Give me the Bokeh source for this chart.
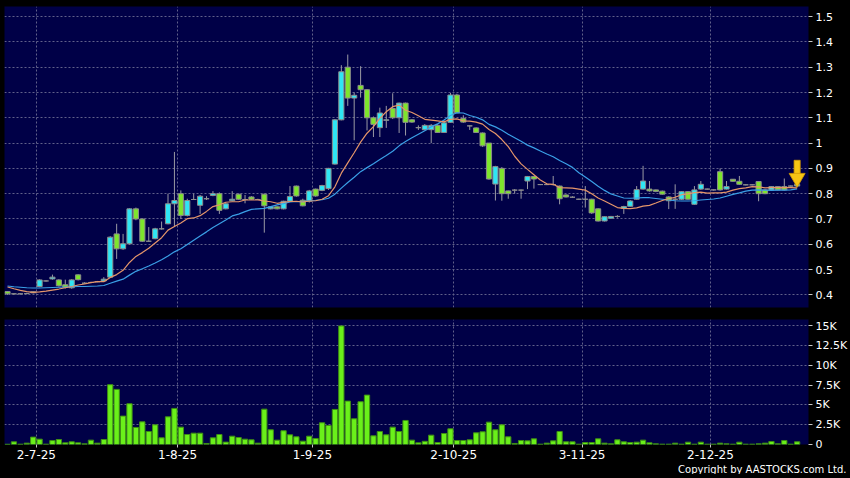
from bokeh.plotting import figure
from bokeh.layouts import column
from bokeh.models import (ColumnDataSource, FixedTicker, NumeralTickFormatter, Range1d,
                          Title, GlobalInlineStyleSheet)
from bokeh.embed import file_html
from bokeh.resources import INLINE

# ---------------- data ----------------
opens = [0.413, 0.404, 0.404, 0.405, 0.408, 0.433, 0.455, 0.463, 0.459, 0.440,
         0.428, 0.479, 0.446, 0.449, 0.452, 0.455, 0.470, 0.641, 0.582, 0.602,
         0.740, 0.700, 0.612, 0.622, 0.661, 0.681, 0.760, 0.800, 0.714, 0.777,
         0.754, 0.780, 0.793, 0.800, 0.740, 0.772, 0.798, 0.777, 0.787, 0.777,
         0.798, 0.740, 0.748, 0.740, 0.770, 0.830, 0.774, 0.770, 0.818, 0.813,
         0.820, 0.917, 1.092, 1.300, 1.178, 1.228, 1.211, 1.100, 1.061, 1.090,
         1.137, 1.100, 1.158, 1.092, 1.061, 1.053, 1.053, 1.070, 1.042, 1.082,
         1.190, 1.097, 1.068, 1.060, 1.040, 1.000, 0.838, 0.900, 0.811, 0.814,
         0.814, 0.850, 0.868, 0.836, 0.836, 0.836, 0.830, 0.795, 0.786, 0.778,
         0.778, 0.778, 0.740, 0.692, 0.703, 0.710, 0.742, 0.750, 0.778, 0.818,
         0.818, 0.815, 0.810, 0.787, 0.778, 0.778, 0.808, 0.758, 0.818, 0.818,
         0.815, 0.887, 0.818, 0.857, 0.849, 0.835, 0.835, 0.848, 0.815, 0.815,
         0.828, 0.828, 0.830, 0.830]
highs = [0.415, 0.406, 0.406, 0.408, 0.414, 0.462, 0.458, 0.480, 0.462, 0.460,
         0.462, 0.481, 0.450, 0.452, 0.455, 0.470, 0.632, 0.681, 0.641, 0.742,
         0.745, 0.702, 0.668, 0.665, 0.690, 0.800, 0.965, 0.813, 0.780, 0.800,
         0.795, 0.790, 0.810, 0.805, 0.765, 0.810, 0.800, 0.795, 0.790, 0.780,
         0.800, 0.750, 0.750, 0.772, 0.830, 0.832, 0.780, 0.815, 0.820, 0.835,
         0.902, 1.095, 1.308, 1.350, 1.200, 1.304, 1.213, 1.105, 1.140, 1.147,
         1.197, 1.160, 1.160, 1.095, 1.070, 1.075, 1.075, 1.075, 1.090, 1.198,
         1.195, 1.110, 1.070, 1.062, 1.042, 1.000, 0.910, 0.905, 0.812, 0.818,
         0.816, 0.870, 0.870, 0.838, 0.840, 0.870, 0.832, 0.797, 0.790, 0.780,
         0.830, 0.780, 0.742, 0.710, 0.712, 0.715, 0.752, 0.775, 0.830, 0.910,
         0.850, 0.816, 0.812, 0.790, 0.837, 0.810, 0.810, 0.830, 0.850, 0.820,
         0.817, 0.900, 0.850, 0.858, 0.870, 0.837, 0.837, 0.850, 0.817, 0.830,
         0.830, 0.860, 0.832, 0.840]
lows = [0.400, 0.402, 0.402, 0.403, 0.406, 0.430, 0.452, 0.460, 0.433, 0.425,
        0.424, 0.457, 0.444, 0.447, 0.450, 0.452, 0.468, 0.542, 0.578, 0.600,
        0.695, 0.610, 0.610, 0.620, 0.658, 0.679, 0.668, 0.700, 0.710, 0.775,
        0.720, 0.775, 0.790, 0.720, 0.738, 0.770, 0.776, 0.762, 0.776, 0.775,
        0.646, 0.738, 0.738, 0.738, 0.768, 0.788, 0.750, 0.765, 0.788, 0.810,
        0.815, 0.915, 1.090, 1.147, 1.011, 1.180, 1.050, 1.024, 1.024, 1.060,
        1.095, 1.040, 1.030, 1.080, 1.052, 1.050, 1.000, 1.040, 1.040, 1.080,
        1.118, 1.080, 1.052, 1.040, 0.985, 0.855, 0.773, 0.772, 0.780, 0.800,
        0.780, 0.818, 0.820, 0.834, 0.834, 0.832, 0.758, 0.785, 0.784, 0.776,
        0.745, 0.720, 0.690, 0.690, 0.700, 0.705, 0.720, 0.748, 0.776, 0.816,
        0.808, 0.806, 0.796, 0.739, 0.740, 0.775, 0.776, 0.756, 0.815, 0.816,
        0.812, 0.812, 0.816, 0.847, 0.835, 0.833, 0.833, 0.770, 0.798, 0.813,
        0.813, 0.813, 0.828, 0.826]
closes = [0.404, 0.404, 0.404, 0.405, 0.412, 0.459, 0.455, 0.470, 0.436, 0.430,
          0.459, 0.460, 0.446, 0.449, 0.452, 0.462, 0.628, 0.582, 0.602, 0.740,
          0.700, 0.612, 0.612, 0.661, 0.661, 0.760, 0.773, 0.714, 0.773, 0.777,
          0.790, 0.780, 0.800, 0.734, 0.760, 0.778, 0.778, 0.777, 0.778, 0.777,
          0.752, 0.748, 0.740, 0.770, 0.789, 0.791, 0.752, 0.811, 0.791, 0.832,
          0.900, 1.092, 1.282, 1.178, 1.189, 1.211, 1.100, 1.074, 1.119, 1.092,
          1.100, 1.158, 1.082, 1.083, 1.061, 1.070, 1.070, 1.042, 1.080, 1.190,
          1.120, 1.083, 1.068, 1.042, 0.989, 0.858, 0.907, 0.800, 0.800, 0.814,
          0.814, 0.868, 0.858, 0.836, 0.836, 0.836, 0.780, 0.787, 0.786, 0.778,
          0.778, 0.724, 0.692, 0.709, 0.710, 0.710, 0.749, 0.771, 0.816, 0.850,
          0.811, 0.809, 0.798, 0.772, 0.778, 0.808, 0.778, 0.815, 0.837, 0.818,
          0.815, 0.815, 0.828, 0.849, 0.837, 0.835, 0.835, 0.800, 0.800, 0.828,
          0.815, 0.815, 0.830, 0.837]
ma10 = [0.431, 0.424, 0.418, 0.413, 0.410, 0.412, 0.415, 0.419, 0.423, 0.428,
        0.433, 0.439, 0.443, 0.448, 0.452, 0.452, 0.469, 0.480, 0.497, 0.528,
        0.552, 0.567, 0.584, 0.605, 0.626, 0.656, 0.670, 0.684, 0.701, 0.704,
        0.713, 0.730, 0.749, 0.756, 0.766, 0.768, 0.768, 0.775, 0.775, 0.775,
        0.771, 0.768, 0.762, 0.766, 0.769, 0.770, 0.767, 0.771, 0.772, 0.778,
        0.792, 0.827, 0.881, 0.922, 0.962, 1.004, 1.039, 1.065, 1.098, 1.124,
        1.144, 1.150, 1.130, 1.121, 1.108, 1.094, 1.091, 1.088, 1.084, 1.094,
        1.096, 1.088, 1.087, 1.083, 1.075, 1.054, 1.038, 1.014, 0.986, 0.948,
        0.918, 0.896, 0.875, 0.854, 0.839, 0.837, 0.824, 0.823, 0.822, 0.818,
        0.814, 0.800, 0.783, 0.771, 0.758, 0.745, 0.742, 0.741, 0.744, 0.751,
        0.754, 0.763, 0.773, 0.780, 0.786, 0.796, 0.799, 0.804, 0.806, 0.802,
        0.803, 0.803, 0.806, 0.814, 0.820, 0.823, 0.828, 0.827, 0.823, 0.824,
        0.824, 0.824, 0.824, 0.823]
ma20 = [0.435, 0.432, 0.430, 0.428, 0.427, 0.427, 0.428, 0.429, 0.430, 0.431,
        0.432, 0.433, 0.433, 0.434, 0.435, 0.437, 0.446, 0.454, 0.462, 0.478,
        0.493, 0.503, 0.514, 0.526, 0.539, 0.554, 0.570, 0.582, 0.599, 0.616,
        0.633, 0.649, 0.666, 0.681, 0.696, 0.712, 0.719, 0.729, 0.738, 0.740,
        0.742, 0.749, 0.756, 0.761, 0.767, 0.769, 0.768, 0.773, 0.774, 0.776,
        0.782, 0.798, 0.822, 0.844, 0.865, 0.887, 0.903, 0.918, 0.935, 0.951,
        0.968, 0.989, 1.006, 1.021, 1.035, 1.049, 1.065, 1.076, 1.091, 1.109,
        1.120, 1.119, 1.109, 1.102, 1.092, 1.074, 1.064, 1.051, 1.035, 1.021,
        1.007, 0.992, 0.981, 0.969, 0.957, 0.946, 0.931, 0.918, 0.904, 0.883,
        0.866, 0.848, 0.829, 0.813, 0.799, 0.791, 0.783, 0.782, 0.783, 0.784,
        0.784, 0.781, 0.778, 0.775, 0.772, 0.771, 0.771, 0.772, 0.775, 0.777,
        0.779, 0.783, 0.790, 0.797, 0.803, 0.810, 0.814, 0.815, 0.814, 0.813,
        0.814, 0.814, 0.815, 0.819]
volumes = [30, 340, 40, 170, 930, 670, 40, 500, 630, 210,
           340, 210, 80, 550, 170, 630, 7540, 6950, 3580, 5140,
           2150, 2860, 1640, 2480, 840, 3490, 4550, 2190, 1260, 1430,
           1430, 130, 840, 1260, 300, 1050, 880, 670, 590, 170,
           4460, 1850, 550, 1730, 1220, 970, 420, 1050, 760, 2740,
           2400, 4420, 14950, 5470, 3240, 5390, 6230, 1090, 1640, 1220,
           2190, 1640, 3030, 550, 210, 400, 1180, 250, 1390, 1980,
           505, 505, 590, 1470, 1600, 2820, 1850, 2480, 970, 130,
           505, 460, 715, 40, 170, 460, 1640, 340, 340, 40,
           250, 250, 715, 170, 80, 590, 340, 250, 295, 550,
           210, 80, 40, 40, 170, 40, 295, 40, 295, 40,
           40, 170, 80, 40, 295, 40, 40, 80, 170, 380,
           80, 505, 40, 340]

price_ticks = [0.4, 0.5, 0.6, 0.7, 0.8, 0.9, 1.0, 1.1, 1.2, 1.3, 1.4, 1.5]
vol_ticks = [0, 2500, 5000, 7500, 10000, 12500, 15000]
vol_tick_labels = ["0", "2.5K", "5K", "7.5K", "10K", "12.5K", "15K"]
date_index = [5, 27, 48, 70, 90, 110]          # first trading day of each month (bar index)
date_labels = ["2-7-25", "1-8-25", "1-9-25", "2-10-25", "3-11-25", "2-12-25"]

# ---------------- styling ----------------
NAVY = "#000047"
UP = "#2fe6f4"
DOWN = "#7ee52c"
EDGE = "#8c8c8c"
WICK = "#9a9aa4"
GRID = "#60608a"
VOLF = "#6af01a"
VOLE = "#3f8f14"
FONT = "DejaVu Sans"

n = len(closes)
xs = list(range(n))
src = ColumnDataSource(dict(
    x=xs, open=opens, high=highs, low=lows, close=closes,
    top=[max(o, c) for o, c in zip(opens, closes)],
    bottom=[min(o, c) for o, c in zip(opens, closes)],
    color=[UP if c >= o else DOWN for o, c in zip(opens, closes)],
    ma10=ma10, ma20=ma20, vol=volumes,
))
grid_x = [i - 0.5 for i in date_index]

FRAME_W = 804

p1 = figure(frame_width=FRAME_W, frame_height=301, x_range=Range1d(-0.47, n + 0.77),
            y_range=Range1d(0.35, 1.54), y_axis_location="right", x_axis_location=None,
            toolbar_location=None, output_backend="svg",
            background_fill_color=NAVY, border_fill_color="black", outline_line_color=None,
            min_border_left=4, min_border_top=6, min_border_right=0, min_border_bottom=12)

p2 = figure(frame_width=FRAME_W, frame_height=125, x_range=p1.x_range,
            y_range=Range1d(0, 15760), y_axis_location="right",
            toolbar_location=None, output_backend="svg",
            background_fill_color=NAVY, border_fill_color="black", outline_line_color=None,
            min_border_left=4, min_border_top=0, min_border_right=0, min_border_bottom=0)

for p in (p1, p2):
    p.xgrid.ticker = FixedTicker(ticks=grid_x)
    p.grid.grid_line_color = GRID
    p.grid.grid_line_dash = "2 2"
    p.grid.grid_line_width = 1
    for ax in p.yaxis:
        ax.axis_line_color = None
        ax.major_tick_line_color = "#c8c8c8"
        ax.major_tick_out = 4
        ax.major_tick_in = 0
        ax.minor_tick_line_color = None
        ax.major_label_text_color = "white"
        ax.major_label_text_font = FONT
        ax.major_label_text_font_size = "11px"
        ax.major_label_standoff = 3

p1.ygrid.ticker = FixedTicker(ticks=price_ticks)
p1.yaxis.ticker = FixedTicker(ticks=price_ticks)
p1.yaxis.formatter = NumeralTickFormatter(format="0.[0]")

p2.ygrid.ticker = FixedTicker(ticks=vol_ticks)
p2.yaxis.ticker = FixedTicker(ticks=vol_ticks)
p2.yaxis.major_label_overrides = dict(zip(vol_ticks, vol_tick_labels))

xa = p2.xaxis[0]
xa.ticker = FixedTicker(ticks=grid_x)
xa.major_label_overrides = dict(zip(grid_x, date_labels))
xa.axis_line_color = None
xa.major_tick_line_color = "#c8c8c8"
xa.major_tick_out = 3
xa.major_tick_in = 0
xa.minor_tick_line_color = None
xa.major_label_text_color = "white"
xa.major_label_text_font = FONT
xa.major_label_text_font_size = "12px"
xa.major_label_standoff = 2

# ---------------- price pane ----------------
p1.segment(x0="x", y0="low", x1="x", y1="high", source=src, line_color=WICK, line_width=1)
p1.vbar(x="x", width=0.8, top="top", bottom="bottom", source=src,
        fill_color="color", line_color=EDGE, line_width=1)
p1.line("x", "ma20", source=src, line_color="#3a9fe6", line_width=1.2)
p1.line("x", "ma10", source=src, line_color="#e4956a", line_width=1.2)

# marker arrow over the latest bar
last = n - 1
p1.vbar(x=[last], width=0.95, top=[highs[last] + 0.092], bottom=[highs[last] + 0.035],
        fill_color="#f6c514", line_color="#d49a00", line_width=0.8)
p1.scatter(x=[last], y=[highs[last] + 0.022], marker="inverted_triangle", size=16,
           fill_color="#f6c514", line_color="#d49a00", line_width=0.8)

# ---------------- volume pane ----------------
p2.vbar(x="x", width=0.82, top="vol", bottom=0, source=src,
        fill_color=VOLF, line_color=VOLE, line_width=1)

p2.add_layout(Title(text="Copyright by AASTOCKS.com Ltd.", align="right",
                    text_color="white", text_font=FONT, text_font_size="10px",
                    text_font_style="normal", standoff=0, offset=-38), "below")

layout = column(p1, p2, spacing=0,
                styles={"background-color": "black"},
                stylesheets=[GlobalInlineStyleSheet(css="body{background:#000000;overflow:hidden;}")])

open("out.html", "w").write(file_html(layout, INLINE))
